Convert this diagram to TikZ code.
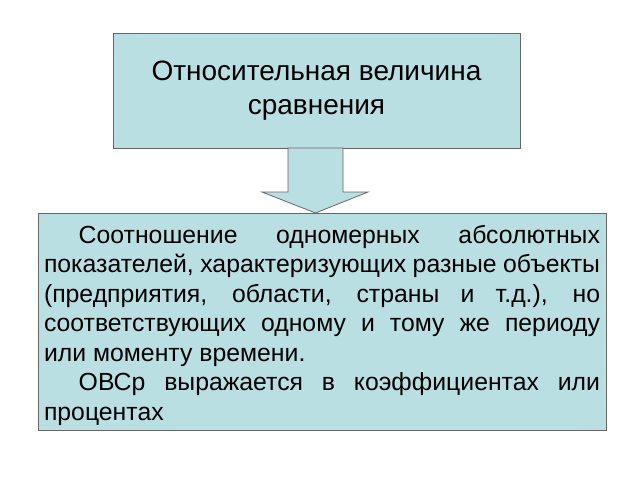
\documentclass[tikz,border=0pt]{standalone}
\usepackage{fontspec}
\setmainfont{Liberation Sans}
\begin{document}
\begin{tikzpicture}[x=1pt,y=-1pt,
  box/.style={draw=black!60,fill=boxc,line width=0.8pt,inner sep=0pt}]
\definecolor{boxc}{HTML}{BADFE3}
\useasboundingbox (0,0) rectangle (640,480);
\node[box,minimum width=407pt,minimum height=115pt,align=center,font=\fontsize{28}{34}\selectfont] (top) at (316.5,90.5) {Относительная величина\\сравнения};
\draw[black!60,fill=boxc,line width=0.8pt] (288,148) coordinate (a1) -- (343,148) -- (343,192) -- (368,192) -- (315.5,213) coordinate (tip) -- (262,192) -- (288,192) -- cycle;
\node[box,minimum width=568pt,minimum height=217pt] (bot) at (322,321.5) {};
\node[text width=556pt,align=justify,font=\fontsize{24.8}{29.5}\selectfont,inner sep=0pt] (txt) at (322,325) {\hspace*{1.4em}Соотношение одномерных абсолютных показателей, характеризующих разные объекты (предприятия, области, страны и т.д.), но соответствующих одному и тому же периоду или моменту времени.\par\hspace*{1.4em}ОВСр выражается в коэффициентах или процентах};
\end{tikzpicture}
\end{document}
